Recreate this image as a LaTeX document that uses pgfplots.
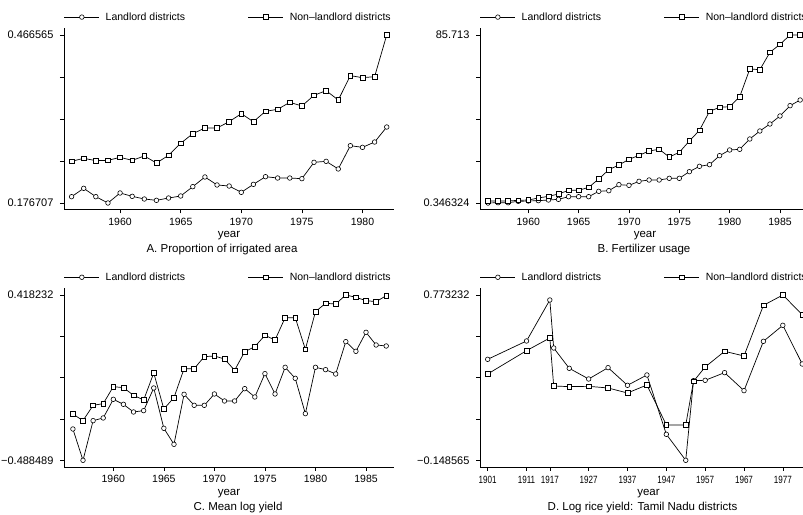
\documentclass[border=0pt]{standalone}
\usepackage{fontspec}
\setmainfont{Liberation Sans}
\newfontfamily\narrowfont[FakeStretch=0.77]{Liberation Sans}
\usepackage{pgfplots}
\pgfplotsset{compat=1.18}

\pgfplotsset{
  stata/.style={
    scale only axis,
    axis x line*=bottom,
    axis y line*=left,
    axis line style={line width=0.6pt},
    tick align=outside,
    major tick length=4pt,
    every tick/.style={black, line width=0.6pt},
    /pgf/number format/assume math mode=true,
    xticklabel style={font=\fontsize{10.5}{12}\selectfont, anchor=base, yshift=-12pt},
    yticklabel style={font=\fontsize{11}{12}\selectfont, xshift=-3pt},
    clip=false,
    legend columns=2,
    legend style={draw=none, fill=none, at={(0,1.06)}, anchor=west,
      inner sep=0pt, outer sep=0pt,
      nodes={inner sep=0pt, anchor=west, font=\fontsize{10.5}{12}\selectfont},
      /tikz/every odd column/.append style={column sep=6pt},
      /tikz/every even column/.append style={column sep=63pt}},
  },
  longleg/.style={legend image code/.code={
      \draw[mark repeat=2, mark phase=2, ##1]
        plot coordinates {(0pt,0pt) (17.5pt,0pt) (35pt,0pt)};}},
  land/.style={longleg, black, line width=0.7pt, mark=*, mark size=2.3pt,
    mark options={solid, fill=white, line width=0.6pt}},
  nonland/.style={longleg, black, line width=0.7pt, mark=square*, mark size=2.4pt,
    mark options={solid, fill=white, line width=0.6pt}},
}

% year label and caption under each panel
\newcommand{\panelcap}[2]{%
  \node[anchor=base, font=\fontsize{11.5}{13}\selectfont] at (rel axis cs:0.5,0) [yshift=-28pt] {year};
  \node[anchor=base, font=\fontsize{11.5}{13}\selectfont] at (rel axis cs:0.5,0) [yshift=-43pt, xshift=#1] {#2};}

\begin{document}
\begin{tikzpicture}[x=1pt,y=1pt]
\useasboundingbox (0,0) rectangle (803,514);
\clip (0,0) rectangle (803,514);

% ---------- A. irrigated area ----------
\begin{axis}[stata, at={(64pt,304.5pt)}, anchor=south west,
  width=330pt, height=181.5pt,
  xmin=1955.373, xmax=1982.60, ymin=0.165493, ymax=0.478642,
  xtick={1960,1965,...,1980}, xticklabels={1960,1965,1970,1975,1980},
  ytick={0.176707,0.2491715,0.321636,0.3941005,0.466565},
  yticklabels={0.176707,,,,0.466565}]
\addplot[land] coordinates {
 (1956,0.1876) (1957,0.2020) (1958,0.1876) (1959,0.176707) (1960,0.1940)
 (1961,0.1882) (1962,0.1836) (1963,0.1813) (1964,0.1853) (1965,0.1888)
 (1966,0.2049) (1967,0.2216) (1968,0.2078) (1969,0.2060) (1970,0.1951)
 (1971,0.2089) (1972,0.2221) (1973,0.2198) (1974,0.2198) (1975,0.2187)
 (1976,0.2469) (1977,0.2486) (1978,0.2354) (1979,0.2756) (1980,0.2727)
 (1981,0.2819) (1982,0.3078)};
\addlegendentry{Landlord districts}
\addplot[nonland] coordinates {
 (1956,0.2486) (1957,0.2538) (1958,0.2497) (1959,0.2503) (1960,0.2555)
 (1961,0.2503) (1962,0.2578) (1963,0.2457) (1964,0.2589) (1965,0.2797)
 (1966,0.2963) (1967,0.3061) (1968,0.3061) (1969,0.3170) (1970,0.3308)
 (1971,0.3170) (1972,0.3349) (1973,0.3383) (1974,0.3504) (1975,0.3441)
 (1976,0.3625) (1977,0.3705) (1978,0.3544) (1979,0.3964) (1980,0.3929)
 (1981,0.3947) (1982,0.466565)};
\addlegendentry{Non--landlord districts}
\panelcap{-7pt}{A. Proportion of irrigated area}
\end{axis}

% ---------- B. fertilizer ----------
\begin{axis}[stata, at={(480pt,304.5pt)}, anchor=south west,
  width=330pt, height=181.5pt,
  xmin=1955.205, xmax=1987.98, ymin=-2.9565, ymax=89.270,
  xtick={1960,1965,...,1985}, xticklabels={1960,1965,1970,1975,1980,1985},
  ytick={0.346324,21.688993,43.031662,64.374331,85.713},
  yticklabels={0.346324,,,,85.713}]
\addplot[land] coordinates {
 (1956,0.346324) (1957,0.50) (1958,0.50) (1959,1.20) (1960,1.36)
 (1961,1.53) (1962,1.87) (1963,2.20) (1964,3.56) (1965,3.56)
 (1966,3.56) (1967,6.27) (1968,6.61) (1969,9.66) (1970,9.32)
 (1971,11.36) (1972,12.03) (1973,12.03) (1974,12.88) (1975,12.88)
 (1976,16.27) (1977,18.98) (1978,19.82) (1979,24.40) (1980,27.28)
 (1981,27.62) (1982,32.87) (1983,36.93) (1984,40.49) (1985,44.55)
 (1986,49.80) (1987,52.68)};
\addlegendentry{Landlord districts}
\addplot[nonland] coordinates {
 (1956,1.36) (1957,1.36) (1958,1.36) (1959,1.70) (1960,1.87)
 (1961,2.89) (1962,3.73) (1963,4.92) (1964,6.78) (1965,6.78)
 (1966,8.31) (1967,12.54) (1968,17.28) (1969,19.66) (1970,22.53)
 (1971,24.57) (1972,26.77) (1973,27.62) (1974,23.72) (1975,26.09)
 (1976,31.85) (1977,37.27) (1978,46.92) (1979,48.96) (1980,49.30)
 (1981,54.38) (1982,68.44) (1983,68.10) (1984,76.90) (1985,80.97)
 (1986,85.713) (1987,85.713)};
\addlegendentry{Non--landlord districts}
\panelcap{-1pt}{B. Fertilizer usage}
\end{axis}

% ---------- C. mean log yield ----------
\begin{axis}[stata, at={(64pt,47pt)}, anchor=south west,
  width=330pt, height=179pt,
  xmin=1955.12, xmax=1987.77, ymin=-0.52524, ymax=0.45663,
  xtick={1960,1965,...,1985}, xticklabels={1960,1965,1970,1975,1980,1985},
  ytick={-0.488489,-0.26180925,-0.0351285,0.19165175,0.418232},
  yticklabels={−0.488489,,,,0.418232}]
\addplot[land] coordinates {
 (1956,-0.3167) (1957,-0.488489) (1958,-0.2710) (1959,-0.2563) (1960,-0.1540)
 (1961,-0.1814) (1962,-0.2234) (1963,-0.2161) (1964,-0.0918) (1965,-0.3130)
 (1966,-0.4008) (1967,-0.1265) (1968,-0.1869) (1969,-0.1869) (1970,-0.1247)
 (1971,-0.1631) (1972,-0.1631) (1973,-0.0955) (1974,-0.1412) (1975,-0.0132)
 (1976,-0.1247) (1977,0.0215) (1978,-0.0388) (1979,-0.2326) (1980,0.0215)
 (1981,0.0087) (1982,-0.0150) (1983,0.1623) (1984,0.1093) (1985,0.2135)
 (1986,0.1440) (1987,0.1385)};
\addlegendentry{Landlord districts}
\addplot[nonland] coordinates {
 (1956,-0.2344) (1957,-0.2710) (1958,-0.1869) (1959,-0.1777) (1960,-0.0845)
 (1961,-0.0900) (1962,-0.1320) (1963,-0.1576) (1964,-0.0095) (1965,-0.2070)
 (1966,-0.1448) (1967,0.0142) (1968,0.0142) (1969,0.0800) (1970,0.0837)
 (1971,0.0672) (1972,0.0051) (1973,0.1075) (1974,0.1349) (1975,0.1970)
 (1976,0.1714) (1977,0.2939) (1978,0.2939) (1979,0.1203) (1980,0.3268)
 (1981,0.3725) (1982,0.3689) (1983,0.418232) (1984,0.4054) (1985,0.3872)
 (1986,0.3817) (1987,0.4146)};
\addlegendentry{Non--landlord districts}
\panelcap{9pt}{C. Mean log yield}
\end{axis}

% ---------- D. Tamil Nadu ----------
\begin{axis}[stata, at={(480pt,47pt)}, anchor=south west,
  width=337pt, height=179pt,
  xmin=1899.02, xmax=1985.8, ymin=-0.18593, ymax=0.81227,
  xtick={1901,1911,1917,1927,1937,1947,1957,1967,1977},
  xticklabels={1901,1911,1917,1927,1937,1947,1957,1967,1977},
  xticklabel style={font=\narrowfont\fontsize{10.5}{12}\selectfont},
  ytick={-0.148565,0.08188425,0.3123335,0.54278275,0.773232},
  yticklabels={−0.148565,,,,0.773232}]
\addplot[land] coordinates {
 (1901,0.4146) (1911,0.5168) (1917,0.7454) (1918,0.4777) (1922,0.3644)
 (1927,0.3049) (1932,0.3681) (1937,0.2696) (1942,0.3272) (1947,-0.0036)
 (1952,-0.148565) (1954,0.2956) (1957,0.2975) (1962,0.3402) (1967,0.2399)
 (1972,0.5149) (1977,0.6041) (1982,0.3885)};
\addlegendentry{Landlord districts}
\addplot[nonland] coordinates {
 (1901,0.3328) (1911,0.4629) (1917,0.5335) (1918,0.2659) (1922,0.2622)
 (1927,0.2640) (1932,0.2547) (1937,0.2268) (1942,0.2715) (1947,0.0484)
 (1952,0.0484) (1954,0.2919) (1957,0.3718) (1962,0.4592) (1967,0.4332)
 (1972,0.7156) (1977,0.773232) (1982,0.6636)};
\addlegendentry{Non--landlord districts}
\panelcap{-6pt}{D. Log rice yield: Tamil Nadu districts}
\end{axis}
\end{tikzpicture}
\end{document}
